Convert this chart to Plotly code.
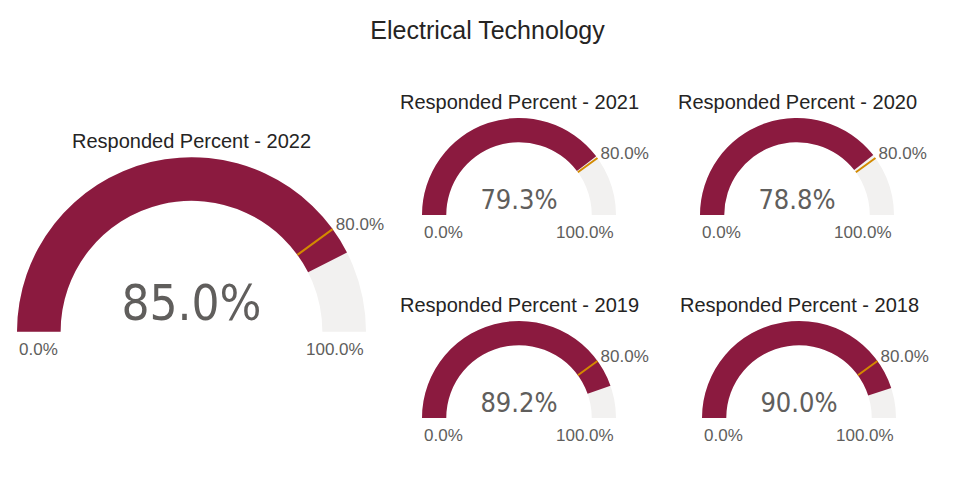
import plotly.graph_objects as go

W, H = 975, 477

years = ["2022", "2021", "2020", "2019", "2018"]
values = [85.0, 79.3, 78.8, 89.2, 90.0]
target = 80.0
gauge_min, gauge_max = 0, 100
title_text = "Electrical Technology"
subtitle_prefix = "Responded Percent - "

# gauge boxes in pixels: (left, right, top, bottom)
boxes = [
    (17, 366, 157, 332),
    (422, 616, 118, 215),
    (700, 894, 118, 215),
    (422, 616, 321, 418),
    (702, 896, 321, 418),
]
big = [True, False, False, False, False]

BAR = "#8B1A3F"
BG = "#F2F1F0"
THR = "#D38A00"
TXT = "#605E5C"
TITLE = "#252423"
FONT = "Liberation Sans, Arial, sans-serif"
NUMFONT = "DejaVu Sans Condensed, Liberation Sans Narrow, Arial Narrow, sans-serif"

fig = go.Figure()
annotations = []
for yr, v, (l, r, t, b), isbig in zip(years, values, boxes, big):
    fig.add_trace(go.Indicator(
        mode="gauge+number",
        value=v,
        number=dict(valueformat=".1f", suffix="%",
                    font=dict(family=NUMFONT, color=TXT, size=49 if isbig else 27,
                              weight=300)),
        domain=dict(x=[l / W, r / W], y=[1 - b / H, 1 - t / H]),
        gauge=dict(
            shape="angular",
            axis=dict(range=[gauge_min, gauge_max], tickvals=[target],
                      ticktext=[f"{target:.1f}%"], ticks="", tickwidth=0,
                      tickfont=dict(family=FONT, color=TXT, size=17)),
            bar=dict(color=BAR, thickness=1, line=dict(width=0)),
            bgcolor=BG,
            borderwidth=0,
            threshold=dict(line=dict(color=THR, width=2), thickness=1, value=target),
        ),
    ))
    annotations.append(dict(text=subtitle_prefix + yr, x=(l + r) / 2 / W,
                            y=1 - (t - 16) / H, xref="paper", yref="paper",
                            showarrow=False, yanchor="middle", xanchor="center",
                            font=dict(family=FONT, color=TITLE, size=20)))
    annotations.append(dict(text=f"{gauge_min:.1f}%", x=l / W, y=1 - (b + 6) / H,
                            xref="paper", yref="paper", showarrow=False,
                            xanchor="left", yanchor="top",
                            font=dict(family=FONT, color=TXT, size=17)))
    annotations.append(dict(text=f"{gauge_max:.1f}%", x=r / W, y=1 - (b + 6) / H,
                            xref="paper", yref="paper", showarrow=False,
                            xanchor="right", yanchor="top",
                            font=dict(family=FONT, color=TXT, size=17)))

fig.update_layout(
    width=W, height=H,
    margin=dict(l=0, r=0, t=0, b=0),
    paper_bgcolor="white",
    title=dict(text=title_text, x=0.5, xanchor="center", y=1 - 30 / H, yanchor="middle",
               font=dict(family=FONT, color=TITLE, size=25)),
    annotations=annotations,
)

fig.write_html("out.html")
